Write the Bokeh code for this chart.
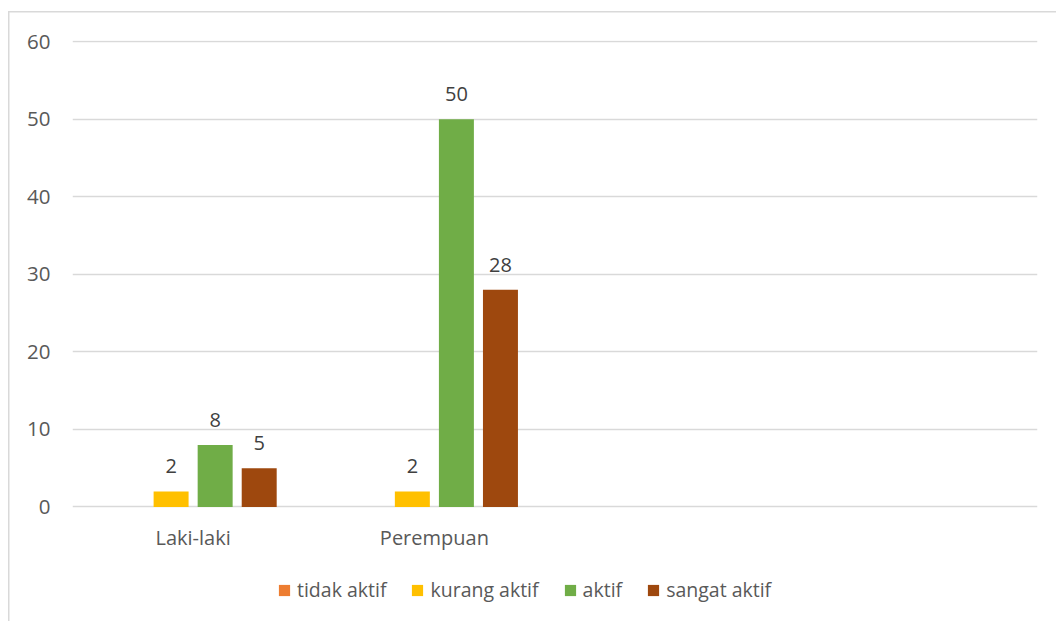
from bokeh.plotting import figure
from bokeh.models import (ColumnDataSource, FactorRange, Range1d, FixedTicker,
                          LabelSet, Legend, LegendItem)
from bokeh.core.properties import value
from bokeh.transform import dodge
from bokeh.embed import file_html
from bokeh.resources import INLINE
import math

# Gender groups; two trailing blank slots keep the category axis four groups wide
groups = ["Laki-laki", "Perempuan"]
blank_slots = [" ", "  "]

# Activity levels per group (tidak aktif has no responses, so it is left empty)
tidak_aktif = [math.nan, math.nan]
kurang_aktif = [2, 2]
aktif = [8, 50]
sangat_aktif = [5, 28]

series_names = ["tidak aktif", "kurang aktif", "aktif", "sangat aktif"]
series_values = [tidak_aktif, kurang_aktif, aktif, sangat_aktif]
series_colors = ["#ED7D31", "#FFC000", "#70AD47", "#9E480E"]

y_ticks = [0, 10, 20, 30, 40, 50, 60]

FONT = "Open Sans"
FSIZE = "20px"
TEXT_GRAY = "#595959"
GRID = "#d9d9d9"

# The frame reaches down to the page bottom so that the category labels and
# the legend below the zero line are drawn inside it.
p = figure(width=1056, height=621, output_backend="svg", toolbar_location=None,
           x_range=FactorRange(*(groups + blank_slots), range_padding=0),
           y_range=Range1d(-14.0, 60.15),
           min_border_left=72, min_border_right=19,
           min_border_top=40, min_border_bottom=6)

# thin chart-area border (left and top edges) drawn as a CSS background
# behind the transparent canvas border
line_img = "linear-gradient(#d9d9d9, #d9d9d9)"
p.styles = {
    "background-color": "white",
    "background-image": f"{line_img}, {line_img}",
    "background-size": "1.5px 100%, 100% 1.5px",
    "background-position": "8px 11px, 8px 11px",
    "background-repeat": "no-repeat",
}
p.border_fill_color = None
p.background_fill_color = "white"
p.outline_line_color = None

step = 0.1826
bar_w = 0.145
offsets = [-1.5 * step, -0.5 * step, 0.5 * step, 1.5 * step]

items = []
for name, vals, color, off in zip(series_names, series_values, series_colors, offsets):
    src = ColumnDataSource(dict(g=groups, v=vals))
    r = p.vbar(x=dodge("g", off, range=p.x_range), top="v", width=bar_w,
               source=src, fill_color=color, line_color=None)
    items.append(LegendItem(label=name, renderers=[r]))
    lab_g = [g for g, v in zip(groups, vals) if not math.isnan(v)]
    lab_v = [v for v in vals if not math.isnan(v)]
    if lab_v:
        lsrc = ColumnDataSource(dict(g=lab_g, v=lab_v, t=[str(int(v)) for v in lab_v]))
        p.add_layout(LabelSet(x=dodge("g", off, range=p.x_range), y="v", text="t",
                              source=lsrc, text_align="center",
                              text_baseline="alphabetic", y_offset=18,
                              text_font=value(FONT), text_font_size=value(FSIZE),
                              text_color="#404040"))

# category names under the zero line
cat_src = ColumnDataSource(dict(g=groups, y0=[0] * len(groups)))
p.add_layout(LabelSet(x="g", y="y0", text="g", source=cat_src,
                      text_align="center", text_baseline="alphabetic",
                      y_offset=-38, text_font=value(FONT),
                      text_font_size=value(FSIZE), text_color=TEXT_GRAY))

# value axis
p.yaxis.ticker = FixedTicker(ticks=y_ticks)
p.yaxis.axis_line_color = None
p.yaxis.major_tick_line_color = None
p.yaxis.minor_tick_line_color = None
p.yaxis.major_tick_out = 0
p.yaxis.major_label_standoff = 22
p.yaxis.major_label_text_font = FONT
p.yaxis.major_label_text_font_size = "20.5px"
p.yaxis.major_label_text_color = TEXT_GRAY

p.xaxis.visible = False
p.xgrid.grid_line_color = None
p.ygrid.grid_line_color = GRID
p.ygrid.grid_line_width = 1.5

legend = Legend(items=items, orientation="horizontal", location=(205, 12),
                glyph_width=14, glyph_height=14, label_standoff=6, spacing=24,
                padding=0, margin=0, border_line_color=None,
                background_fill_alpha=0,
                label_text_font=FONT, label_text_font_size="19.5px",
                label_text_color=TEXT_GRAY)
p.add_layout(legend, "center")

open("out.html", "w").write(file_html(p, INLINE))
